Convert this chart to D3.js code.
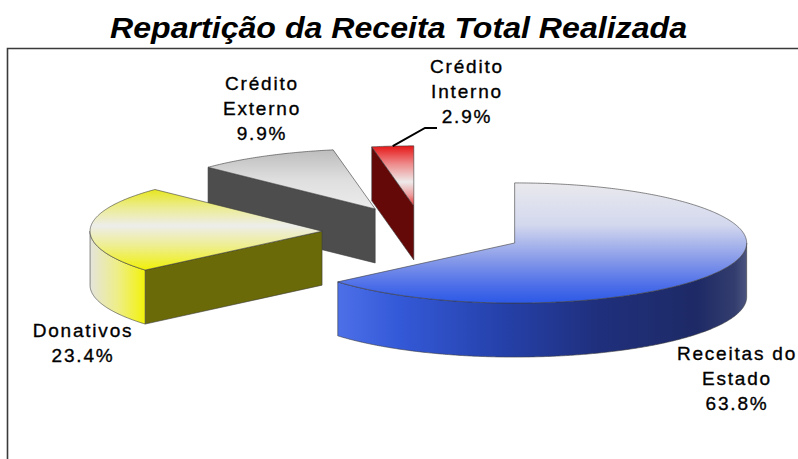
<!DOCTYPE html>
<html>
<head>
<meta charset="utf-8">
<title>Repartição da Receita Total Realizada</title>
<script src="https://d3js.org/d3.v7.min.js"></script>
<style>
  body { margin: 0; background: #fff; }
  svg { display: block; }
  text { font-family: "Liberation Sans", Arial, sans-serif; fill: #000; }
</style>
</head>
<body>
<svg width="798" height="459"></svg>
<script>
// data
const categories = ["Receitas do Estado", "Donativos", "Crédito Externo", "Crédito Interno"];
const shares = [63.8, 23.4, 9.9, 2.9];
const labelLines = [["Receitas do", "Estado"], ["Donativos"], ["Crédito", "Externo"], ["Crédito", "Interno"]];

const svg = d3.select("svg");

// flattened 3d pie
const cx = 423, cy = 232, R = 232, tilt = 0.259, depth = 54, explode = 101;

// label anchors (centre x, first baseline) and line height
const labelAt = [[736, 360], [82, 337], [261, 90], [466, 73]];
const lineH = 25;

// look of each slice
const looks = [
  { top: [[0, "#e9e9ed"], [0.35, "#d3d8ee"], [0.62, "#8c9ee9"], [0.86, "#4b6de8"], [1, "#2c59e6"]],
    side: [[0, "#4d70e8"], [0.15, "#3459d8"], [0.4, "#2541aa"], [0.64, "#1f2f7c"], [0.88, "#1e2a66"], [0.97, "#333d6e"], [1, "#4c5580"]],
    face: "#223" },
  { top: [[0, "#e6e620"], [0.22, "#ecec90"], [0.45, "#ededeb"], [0.7, "#eeee90"], [1, "#f0f008"]],
    side: [[0, "#e4e4dc"], [0.5, "#eeee88"], [1, "#f2f20a"]],
    face: "#6b6a08" },
  { top: [[0, "#bdbdbd"], [0.5, "#dedede"], [1, "#ececec"]],
    side: [[0, "#4d4d4d"], [1, "#4d4d4d"]],
    face: "#4d4d4d" },
  { top: [[0, "#e61616"], [0.3, "#ee8a8a"], [0.6, "#eeeaea"], [0.82, "#ee9c9c"], [1, "#e63232"]],
    side: [[0, "#640808"], [1, "#640808"]],
    face: "#640808" }
];

const defs = svg.append("defs");
looks.forEach((lk, i) => {
  const gt = defs.append("linearGradient").attr("id", "top" + i)
    .attr("x1", 0).attr("y1", 0).attr("x2", 0).attr("y2", 1);
  lk.top.forEach(s => gt.append("stop").attr("offset", s[0]).attr("stop-color", s[1]));
  const gs = defs.append("linearGradient").attr("id", "side" + i)
    .attr("x1", 0).attr("y1", 0).attr("x2", 1).attr("y2", 0);
  lk.side.forEach(s => gs.append("stop").attr("offset", s[0]).attr("stop-color", s[1]));
});

// frame
svg.append("path")
  .attr("d", "M7.5,459V48.5H798")
  .attr("fill", "none").attr("stroke", "#3a3a3a").attr("stroke-width", 1.6);

// title
svg.append("text")
  .attr("x", 398.5).attr("y", 38)
  .attr("text-anchor", "middle")
  .attr("font-size", 30).attr("font-weight", "bold").attr("font-style", "italic")
  .attr("textLength", 577).attr("lengthAdjust", "spacingAndGlyphs")
  .text("Repartição da Receita Total Realizada");

const arcs = d3.pie().sort(null).value(d => d)(shares);

function pt(o, a, r, dz) {
  return [o[0] + r * Math.sin(a), o[1] - r * Math.cos(a) * tilt + dz];
}
function rim(o, a0, a1, dz) {
  const n = Math.max(2, Math.ceil((a1 - a0) / 0.01));
  return d3.range(n + 1).map(i => pt(o, a0 + (a1 - a0) * i / n, R, dz));
}
const line = d3.line();

const slices = arcs.map((d, i) => {
  const m = (d.startAngle + d.endAngle) / 2;
  const o = [cx + explode * Math.sin(m), cy - explode * Math.cos(m) * tilt];
  return { d, i, m, o };
});

const pieG = svg.append("g")
  .attr("stroke", "#3c3c3c").attr("stroke-width", 0.6).attr("stroke-linejoin", "round");

slices.slice().sort((a, b) => a.o[1] - b.o[1]).forEach(s => {
  const { d, i, o } = s;
  const a0 = d.startAngle, a1 = d.endAngle;
  const g = pieG.append("g").attr("class", "slice");

  // radial face at the start edge, seen when it looks toward the viewer
  if (Math.sin(a0) < -1e-6) {
    const p = pt(o, a0, R, 0);
    g.append("path")
      .attr("d", line([o, p, [p[0], p[1] + depth], [o[0], o[1] + depth]]) + "Z")
      .attr("fill", looks[i].face);
  }
  // radial face at the end edge
  if (Math.sin(a1) > 1e-6) {
    const p = pt(o, a1, R, 0);
    g.append("path")
      .attr("d", line([o, p, [p[0], p[1] + depth], [o[0], o[1] + depth]]) + "Z")
      .attr("fill", looks[i].face);
  }
  // outer wall, front half only
  const s0 = Math.max(a0, Math.PI / 2), s1 = Math.min(a1, 3 * Math.PI / 2);
  if (s1 > s0) {
    const pts = rim(o, s0, s1, 0).concat(rim(o, s0, s1, depth).reverse());
    g.append("path").attr("d", line(pts) + "Z").attr("fill", `url(#side${i})`);
  }
  // top
  g.append("path")
    .attr("d", line([o].concat(rim(o, a0, a1, 0))) + "Z")
    .attr("fill", `url(#top${i})`);
});

// labels
const fmt = d3.format(".1f");
slices.forEach(s => {
  const [lx, ly] = labelAt[s.i];
  const t = svg.append("text")
    .attr("text-anchor", "middle")
    .attr("font-size", 19).attr("letter-spacing", 1.8)
    .attr("stroke", "#000").attr("stroke-width", 0.35);
  labelLines[s.i].concat([fmt(shares[s.i]) + "%"]).forEach((txt, k) => {
    t.append("tspan").attr("x", lx + 1).attr("y", ly + k * lineH).text(txt);
  });
});

// leader for the thin slice
const thin = slices[3];
const tip = pt(thin.o, thin.m, R, 0);
svg.append("path")
  .attr("d", line([[437, 128], [425, 128], tip]))
  .attr("fill", "none").attr("stroke", "#000").attr("stroke-width", 2);
</script>
</body>
</html>
